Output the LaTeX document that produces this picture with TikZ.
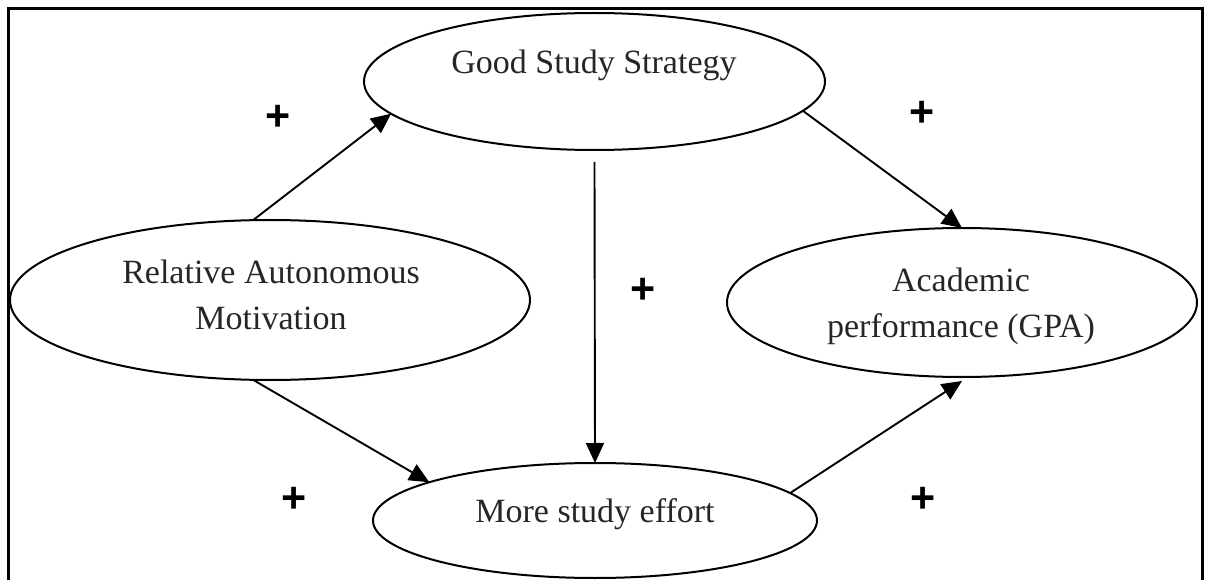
\documentclass[tikz,border=0pt]{standalone}
\usepackage{fontspec}
\setmainfont{Liberation Serif}
\newfontfamily\plusfont{Liberation Sans}
\usetikzlibrary{shapes.geometric,arrows.meta}
\begin{document}
\begin{tikzpicture}[x=1pt,y=-1pt,
  oval/.style={ellipse, draw, line width=2pt, inner sep=0pt, outer sep=0pt},
  lab/.style={font=\fontsize{34}{46}\selectfont, align=center, inner sep=0pt, text=black!85},
  sign/.style={font=\plusfont\bfseries\fontsize{43}{43}\selectfont, inner sep=0pt},
  arr/.style={line width=1.9pt, -{Triangle[length=20pt,width=18pt]}},
  frame/.style={line width=2.8pt}]
\useasboundingbox (0,0) rectangle (1211,580);
\begin{scope}
  \clip (0,0) rectangle (1211,580);
  \draw[frame] (8.5,8.5) rectangle (1202.5,620);
\end{scope}
% ellipses
\node[oval, minimum width=461pt, minimum height=137pt] (gss) at (594.5,81.5) {};
\node[oval, minimum width=520pt, minimum height=160pt] (ram) at (270,300) {};
\node[oval, minimum width=470pt, minimum height=149pt] (ap) at (962,302.5) {};
\node[oval, minimum width=444pt, minimum height=115pt] (mse) at (595,520.5) {};
% texts
\node[lab, anchor=base] (gsst) at (594,74) {Good Study Strategy};
\node[lab] (ramt) at (271,294.4) {Relative Autonomous\\Motivation};
\node[lab] (apt) at (961,306.1) {Academic\\performance (GPA)};
\node[lab, anchor=base] (mset) at (595,522) {More study effort};
% connectors
\draw[arr] (ram.102.4) -- (gss.189.4);
\draw[arr] ([yshift=-12pt]gss.south) -- (mse.north);
\draw[arr] (gss.-8.8) -- (ap.north);
\draw[arr] (ram.258) -- (mse.167.7);
\draw[arr] (mse.8.8) -- ([yshift=-4pt]ap.south);
% signs
\node[sign] (p1) at (278,118) {+};
\node[sign] (p2) at (922.5,114) {+};
\node[sign] (p3) at (643,291) {+};
\node[sign] (p4) at (294.5,499.5) {+};
\node[sign] (p5) at (923,499.5) {+};
\end{tikzpicture}
\end{document}
